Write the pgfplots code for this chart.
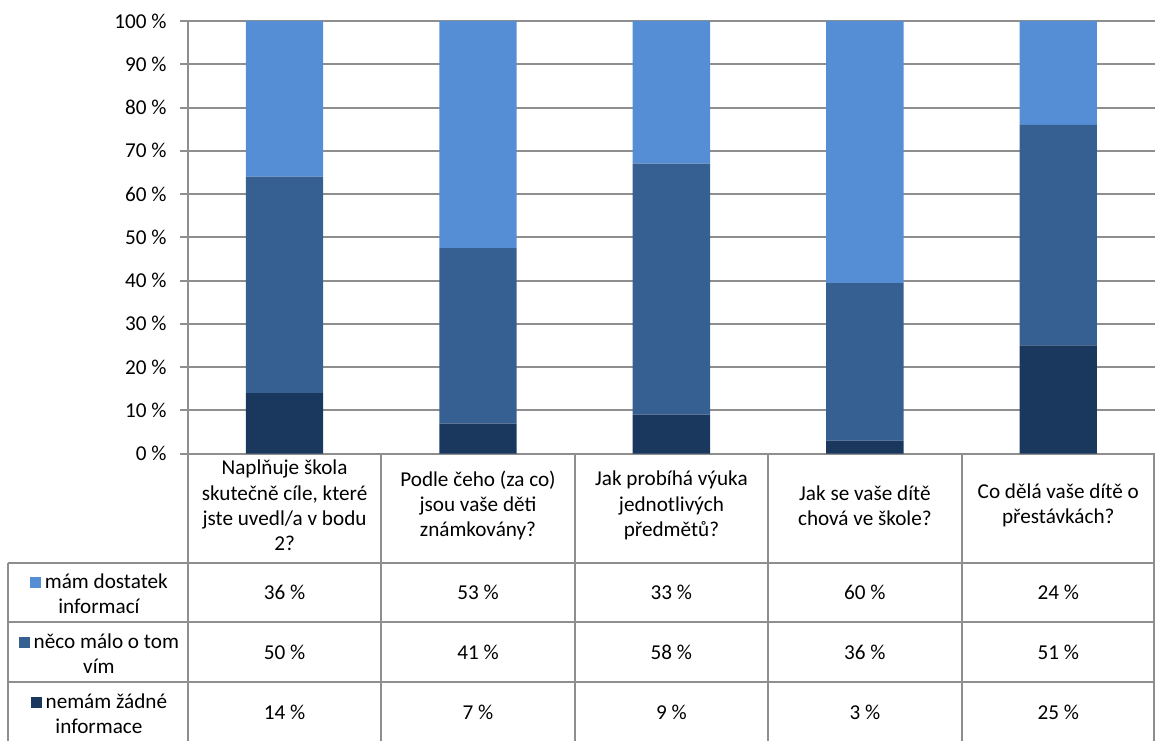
\documentclass[border=0pt]{standalone}
\usepackage{pgfplots}
\pgfplotsset{compat=1.18}
\usepackage{fontspec}
\setmainfont{Carlito}
\definecolor{cLight}{HTML}{558ED5}
\definecolor{cMid}{HTML}{376092}
\definecolor{cDark}{HTML}{1A375E}
\definecolor{cGrid}{HTML}{8E8E8E}
\newcommand\tfont{\fontsize{15.9}{19}\selectfont}
\begin{document}
\begin{tikzpicture}
\begin{scope}[x=0.75pt,y=-0.75pt,shift={(-141pt,340.5pt)}]
\useasboundingbox (0,0) rectangle (1156,742);
\end{scope}
\begin{axis}[
  scale only axis, width=726pt, height=324.75pt,
  xmin=-0.5, xmax=4.5, ymin=0, ymax=100,
  ybar stacked, bar width=0.4,
  xtick=\empty,
  ytick={0,10,...,100},
  yticklabels={0~\%,10~\%,20~\%,30~\%,40~\%,50~\%,60~\%,70~\%,80~\%,90~\%,100~\%},
  ymajorgrids, grid style={cGrid, line width=1.5pt},
  axis line style={draw=none},
  tick align=outside, ytick pos=left, major tick length=6pt,
  major tick style={cGrid, line width=1.5pt},
  yticklabel style={font=\tfont, xshift=-6.5pt},
  clip=false,
]
\addplot[fill=cDark, draw=none] coordinates {(0,14) (1,6.93) (2,9) (3,3.03) (4,25)};
\addplot[fill=cMid, draw=none] coordinates {(0,50) (1,40.59) (2,58) (3,36.36) (4,51)};
\addplot[fill=cLight, draw=none] coordinates {(0,36) (1,52.48) (2,33) (3,60.61) (4,24)};
\draw[cGrid, line width=1.5pt] (axis cs:-0.5,0) -- (axis cs:-0.5,100);
\end{axis}
\begin{scope}[x=0.75pt,y=-0.75pt,shift={(-141pt,340.5pt)}]
\draw[cGrid, line width=1.5pt] (8,563) -- (1156,563) (8,623) -- (1156,623) (8,683) -- (1156,683);
\draw[cGrid, line width=1.5pt] (8,563) -- (8,742);
\foreach \x in {188,381.6,575.2,768.8,962.4,1155} \draw[cGrid, line width=1.5pt] (\x,454) -- (\x,742);
\tikzset{cell/.style={font=\tfont, align=center}}
\node[cell] at (284.8,506) {Naplňuje škola\\skutečně cíle, které\\jste uvedl/a v bodu\\2?};
\node[cell] at (478.4,506) {Podle čeho (za co)\\jsou vaše děti\\známkovány?};
\node[cell] at (672.0,506) {Jak probíhá výuka\\jednotlivých\\předmětů?};
\node[cell] at (865.6,506) {Jak se vaše dítě\\chová ve škole?};
\node[cell] at (1059.2,506) {Co dělá vaše dítě o\\přestávkách?};
\node[cell] at (99,594) {\textcolor{cLight}{\rule{8.5pt}{8.5pt}}\,mám dostatek\\informací};
\node[cell] at (99,654) {\textcolor{cMid}{\rule{8.5pt}{8.5pt}}\,něco málo o tom\\vím};
\node[cell] at (99,714) {\textcolor{cDark}{\rule{8.5pt}{8.5pt}}\,nemám žádné\\informace};
\foreach \x/\a/\b/\c in {284.8/36/50/14, 478.4/53/41/7, 672.0/33/58/9, 865.6/60/36/3, 1059.2/24/51/25} {
  \node[cell] at (\x,593) {\a~\%};
  \node[cell] at (\x,653) {\b~\%};
  \node[cell] at (\x,713) {\c~\%};
}
\end{scope}
\end{tikzpicture}
\end{document}
